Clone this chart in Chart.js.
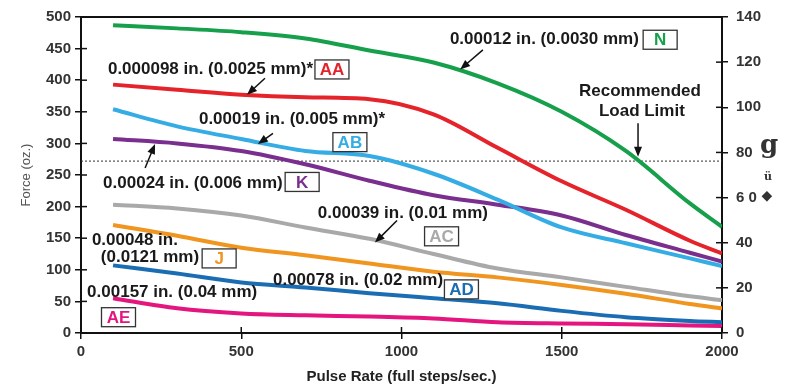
<!DOCTYPE html>
<html>
<head>
<meta charset="utf-8">
<script src="https://cdn.jsdelivr.net/npm/chart.js@4.4.1/dist/chart.umd.min.js"></script>
<style>
  html, body { margin: 0; padding: 0; background: #fff; }
</style>
</head>
<body>
<canvas id="chart" width="791" height="390"></canvas>
<script>
// pulse rate (full steps/sec.) where each curve was read
const pulseRates = [100, 300, 500, 700, 900, 1100, 1300, 1500, 1700, 1900, 2000];

// force (oz.)
const forceN  = [487, 482, 476, 466, 447, 428, 395, 350, 288, 205, 168];
const forceAA = [393, 385, 377, 373, 370, 346, 293, 240, 195, 146, 126];
const forceAB = [354, 327, 307, 288, 280, 252, 211, 167, 142, 118, 106];
const forceK  = [307, 300, 288, 267, 241, 218, 203, 186, 155, 127, 113];
const forceAC = [203, 197, 186, 167, 149, 125, 102, 88, 73, 58, 52];
const forceJ  = [171, 154, 135, 123, 110, 97, 88, 76, 62, 46, 39];
const forceAD = [107, 94, 80, 72, 63, 55, 47, 35, 25, 19, 17];
const forceAE = [55, 39, 31, 28, 26, 23, 17, 15, 14, 12, 11];

const loadLimit = 272;
const xTicks = [0, 500, 1000, 1500, 2000];

const seriesNames  = ["N", "AA", "AB", "K", "AC", "J", "AD", "AE"];
const seriesValues = [forceN, forceAA, forceAB, forceK, forceAC, forceJ, forceAD, forceAE];
const seriesColors = ["#17a04b", "#e5232b", "#35ade4", "#7a2f8f", "#a9a9a9", "#f0951f", "#1b6db3", "#e4157f"];

const toPoints = (vals) => vals.map((v, i) => ({ x: pulseRates[i], y: v }));

const datasets = seriesNames.map((name, i) => ({
  label: name,
  data: toPoints(seriesValues[i]),
  borderColor: seriesColors[i],
  borderWidth: 4,
  pointRadius: 0,
  cubicInterpolationMode: "monotone",
  yAxisID: "y"
}));

datasets.push({
  label: "Recommended Load Limit",
  data: [{ x: 0, y: loadLimit }, { x: 2000, y: loadLimit }],
  borderColor: "#333",
  borderWidth: 1,
  borderDash: [2, 2],
  pointRadius: 0,
  yAxisID: "y"
});

// callouts, placed in data units
const notes = [
  { text: "0.00012 in. (0.0030 mm)", x: 1151, y: 464 },
  { text: "0.000098 in. (0.0025 mm)*", x: 84, y: 418 },
  { text: "0.00019 in. (0.005 mm)*", x: 368, y: 338 },
  { text: "0.00024 in. (0.006 mm)", x: 69, y: 237 },
  { text: "0.00039 in. (0.01 mm)", x: 739, y: 189 },
  { text: "0.00048 in.", x: 34, y: 146 },
  { text: "(0.0121 mm)", x: 62, y: 119 },
  { text: "0.00078 in. (0.02 mm)", x: 599, y: 83 },
  { text: "0.00157 in. (0.04 mm)", x: 19, y: 64 },
  { text: "Recommended", x: 1744, y: 382, center: true },
  { text: "Load Limit", x: 1750, y: 351, center: true }
];

const boxes = [
  { name: "N", x: 1807, y: 464, color: "#17a04b" },
  { name: "AA", x: 783, y: 417, color: "#e5232b" },
  { name: "AB", x: 839, y: 302, color: "#35ade4" },
  { name: "K", x: 690, y: 239, color: "#7a2f8f" },
  { name: "AC", x: 1125, y: 153, color: "#a9a9a9" },
  { name: "J", x: 431, y: 118, color: "#f0951f" },
  { name: "AD", x: 1187, y: 69, color: "#1b6db3" },
  { name: "AE", x: 117, y: 25, color: "#e4157f" }
];

const arrows = [
  { from: [1254, 448], to: [1183, 417] },
  { from: [574, 403], to: [518, 377] },
  { from: [599, 316], to: [552, 299] },
  { from: [200, 261], to: [231, 299] },
  { from: [986, 178], to: [917, 143] },
  { from: [1738, 332], to: [1738, 279] }
];

const labelFont = "bold 17px 'Liberation Sans', Arial, sans-serif";

const calloutPlugin = {
  id: "callouts",
  afterDraw(chart) {
    const { ctx, chartArea } = chart;
    const xs = chart.scales.x, ys = chart.scales.y;
    const px = (v) => xs.getPixelForValue(v);
    const py = (v) => ys.getPixelForValue(v);
    ctx.save();

    // frame top edge
    ctx.strokeStyle = "#111";
    ctx.lineWidth = 2;
    ctx.beginPath();
    ctx.moveTo(chartArea.left, chartArea.top);
    ctx.lineTo(chartArea.right, chartArea.top);
    ctx.stroke();

    // tick marks reaching into the plot
    ctx.lineWidth = 1.5;
    ys.ticks.forEach((t) => {
      const y = py(t.value);
      ctx.beginPath(); ctx.moveTo(chartArea.left, y); ctx.lineTo(chartArea.left + 6, y); ctx.stroke();
    });
    chart.scales.y2.ticks.forEach((t) => {
      const y = chart.scales.y2.getPixelForValue(t.value);
      ctx.beginPath(); ctx.moveTo(chartArea.right, y); ctx.lineTo(chartArea.right - 6, y); ctx.stroke();
    });
    xs.ticks.forEach((t) => {
      const x = px(t.value);
      ctx.beginPath(); ctx.moveTo(x, chartArea.bottom); ctx.lineTo(x, chartArea.bottom - 6); ctx.stroke();
    });

    // callout text
    ctx.font = labelFont;
    ctx.fillStyle = "#1a1a1a";
    ctx.textBaseline = "middle";
    notes.forEach((n) => {
      ctx.textAlign = n.center ? "center" : "left";
      ctx.fillText(n.text, px(n.x), py(n.y));
    });

    // boxed series names
    boxes.forEach((b) => {
      const cx = px(b.x), cy = py(b.y);
      const w = 34, h = 19;
      ctx.fillStyle = "#fff";
      ctx.fillRect(cx - w / 2, cy - h / 2, w, h);
      ctx.strokeStyle = "#333";
      ctx.lineWidth = 1.3;
      ctx.strokeRect(cx - w / 2, cy - h / 2, w, h);
      ctx.fillStyle = b.color;
      ctx.textAlign = "center";
      ctx.fillText(b.name, cx, cy + 1);
    });

    // arrows
    ctx.strokeStyle = "#111";
    ctx.fillStyle = "#111";
    ctx.lineWidth = 1.5;
    arrows.forEach((a) => {
      const x1 = px(a.from[0]), y1 = py(a.from[1]);
      const x2 = px(a.to[0]), y2 = py(a.to[1]);
      const ang = Math.atan2(y2 - y1, x2 - x1);
      ctx.beginPath();
      ctx.moveTo(x1, y1);
      ctx.lineTo(x2 - 6 * Math.cos(ang), y2 - 6 * Math.sin(ang));
      ctx.stroke();
      ctx.beginPath();
      ctx.moveTo(x2, y2);
      ctx.lineTo(x2 - 10 * Math.cos(ang) + 4 * Math.sin(ang), y2 - 10 * Math.sin(ang) - 4 * Math.cos(ang));
      ctx.lineTo(x2 - 10 * Math.cos(ang) - 4 * Math.sin(ang), y2 - 10 * Math.sin(ang) + 4 * Math.cos(ang));
      ctx.closePath();
      ctx.fill();
    });

    // axis titles
    ctx.fillStyle = "#555";
    ctx.font = "13px 'Liberation Sans', Arial, sans-serif";
    ctx.textAlign = "center";
    ctx.save();
    ctx.translate(26, (chartArea.top + chartArea.bottom) / 2);
    ctx.rotate(-Math.PI / 2);
    ctx.fillText("Force (oz.)", 0, 0);
    ctx.restore();

    ctx.fillStyle = "#333";
    ctx.font = "bold 26px 'DejaVu Serif', serif";
    ctx.fillText("g", 769, 146);
    ctx.font = "bold 11px 'DejaVu Serif', serif";
    ctx.fillText("ü", 768, 177);
    ctx.font = "14px 'DejaVu Sans', sans-serif";
    ctx.fillText("◆", 767, 196);

    ctx.restore();
  }
};

const tickFont = { family: "'Liberation Sans', Arial, sans-serif", size: 15, weight: "bold" };

new Chart(document.getElementById("chart"), {
  type: "line",
  data: { datasets },
  plugins: [calloutPlugin],
  options: {
    responsive: false,
    animation: false,
    layout: { padding: { top: 15, left: 0, right: 0, bottom: 0 } },
    plugins: { legend: { display: false }, tooltip: { enabled: false } },
    scales: {
      x: {
        type: "linear",
        min: 0,
        max: 2000,
        afterBuildTicks: (s) => { s.ticks = xTicks.map((v) => ({ value: v })); },
        afterFit: (s) => { s.height = 57; },
        ticks: { font: tickFont, color: "#333", padding: 4, maxRotation: 0, callback: (v) => String(v) },
        grid: { drawOnChartArea: false, color: "#111", tickLength: 6, lineWidth: 1.5 },
        border: { color: "#111", width: 2 },
        title: {
          display: true,
          text: "Pulse Rate (full steps/sec.)",
          color: "#222",
          font: { family: "'Liberation Sans', Arial, sans-serif", size: 15, weight: "bold" },
          padding: { top: 0, bottom: 4 }
        }
      },
      y: {
        position: "left",
        min: 0,
        max: 500,
        ticks: { stepSize: 50, font: tickFont, color: "#333", padding: 4 },
        afterFit: (s) => { s.width = 81; },
        grid: { drawOnChartArea: false, color: "#111", tickLength: 6, lineWidth: 1.5 },
        border: { color: "#111", width: 2 }
      },
      y2: {
        position: "right",
        min: 0,
        max: 140,
        ticks: {
          stepSize: 20,
          font: tickFont,
          color: "#333",
          padding: 8,
          callback: (v) => (v === 60 ? "6 0" : String(v))
        },
        afterFit: (s) => { s.width = 69; },
        grid: { drawOnChartArea: false, color: "#111", tickLength: 6, lineWidth: 1.5 },
        border: { color: "#111", width: 2 }
      }
    }
  }
});
</script>
</body>
</html>
